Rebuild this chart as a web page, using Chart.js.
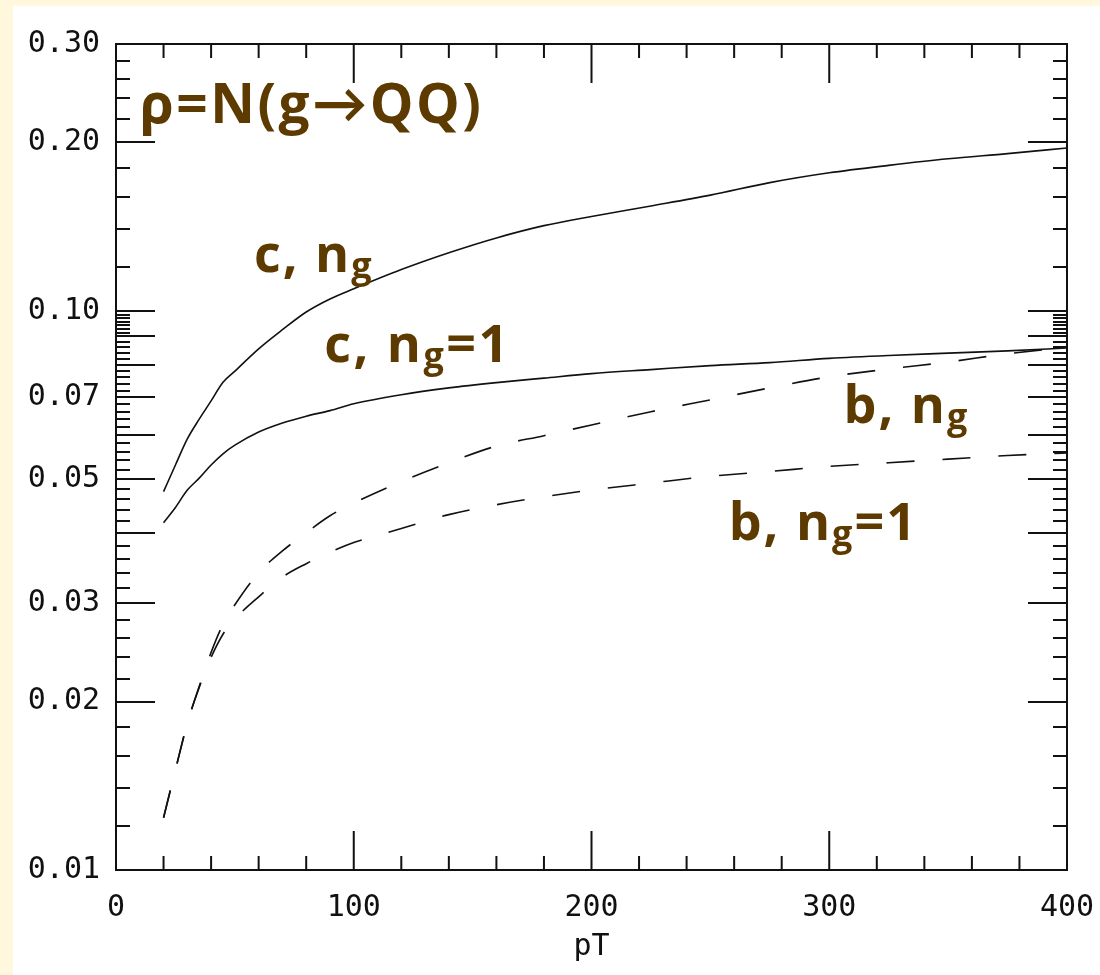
<!DOCTYPE html>
<html><head><meta charset="utf-8">
<script src="https://cdn.jsdelivr.net/npm/chart.js@4.4.1/dist/chart.umd.min.js"></script>
<style>
html,body{margin:0;padding:0;background:#fff8dc;width:1100px;height:975px;overflow:hidden}
#wrap{position:absolute;left:13px;top:6px;width:1087px;height:969px;background:#fff}
canvas{display:block}
</style></head><body>
<div id="wrap"><canvas id="c" width="1087" height="969"></canvas></div>
<script>
// ---- data ----
const pT   = [20,25,30,35,40,45,50,60,70,80,90,100,120,140,160,180,200,225,250,275,300,325,350,375,400];
const cNg  = [0.0475,0.053,0.059,0.064,0.069,0.0745,0.078,0.0855,0.0925,0.0995,0.105,0.1095,0.1185,0.127,0.135,0.142,0.1475,0.154,0.161,0.1695,0.1765,0.182,0.187,0.191,0.1955];
const cNg1 = [0.0418,0.0445,0.0478,0.0502,0.053,0.0555,0.0575,0.0607,0.063,0.0648,0.0663,0.0682,0.0708,0.0728,0.0744,0.0758,0.0772,0.0785,0.0798,0.0808,0.0822,0.0832,0.084,0.0848,0.0858];
const bNg  = [0.0124,0.0151,0.0183,0.0213,0.0245,0.0275,0.0298,0.034,0.0372,0.0401,0.043,0.0453,0.0495,0.0535,0.0573,0.0598,0.0625,0.066,0.0693,0.0728,0.0762,0.0787,0.081,0.0838,0.0861];
const bNg1 = [0.0124,0.0151,0.0183,0.0212,0.024,0.0264,0.0281,0.0308,0.0334,0.0353,0.037,0.0385,0.0408,0.0432,0.045,0.0465,0.0478,0.0492,0.0506,0.0516,0.0527,0.0535,0.0543,0.0551,0.0557];

const xTickLabels = [0,100,200,300,400];
const yTickLabels = [0.01,0.02,0.03,0.05,0.07,0.10,0.20,0.30];
const xLongTicks  = [100,200,300];
const xShortTicks = [20,40,60,80,120,140,160,180,220,240,260,280,320,340,360,380];
const yLongTicks  = [0.02,0.03,0.04,0.05,0.06,0.07,0.08,0.09,0.10,0.20];
const yShortTicks = [0.012,0.014,0.016,0.018,0.022,0.024,0.026,0.028,
  0.032,0.034,0.036,0.038,0.042,0.044,0.046,0.048,0.052,0.054,0.056,0.058,
  0.062,0.064,0.066,0.068,0.072,0.074,0.076,0.078,0.082,0.084,0.086,0.088,
  0.0914,0.0928,0.0942,0.0956,0.097,0.0984,
  0.12,0.14,0.16,0.18,0.22,0.24,0.26,0.28];

// annotations anchored in data coordinates (pT, rho)
const annotations = [
  {main:'\u03C1=N(g\u2192QQ)', sub:'', tail:'', x:10, y:0.217, size:55, spacing:2.5},
  {main:'c, n', sub:'g', tail:'',   x:58,    y:0.1174, size:52, spacing:2},
  {main:'c, n', sub:'g', tail:'=1', x:87.6,  y:0.0811, size:52, spacing:2.5},
  {main:'b, n', sub:'g', tail:'',   x:306,   y:0.0630, size:52, spacing:2},
  {main:'b, n', sub:'g', tail:'=1', x:257.7, y:0.0389, size:52, spacing:2}
];

const mk = (arr) => pT.map((x,i)=>({x:x, y:arr[i]}));
const axisFont = {family:'"DejaVu Sans Mono", monospace', size:30};
const brown = '#5c3a00';
const annFont = (sz) => 'bold ' + sz + 'px "Open Sans", Lato, sans-serif';

const framePlugin = {
  id:'frame',
  afterDatasetsDraw(chart){
    const {ctx, chartArea:a, scales:{x, y}} = chart;
    ctx.save();
    ctx.strokeStyle = '#111';
    ctx.lineWidth = 2;
    ctx.lineCap = 'butt';
    ctx.strokeRect(a.left, a.top, a.right-a.left, a.bottom-a.top);
    ctx.beginPath();
    const hy = (v, len) => { const p = Math.round(y.getPixelForValue(v));
      ctx.moveTo(a.left, p); ctx.lineTo(a.left+len, p);
      ctx.moveTo(a.right, p); ctx.lineTo(a.right-len, p); };
    const vx = (v, len) => { const p = x.getPixelForValue(v);
      ctx.moveTo(p, a.bottom); ctx.lineTo(p, a.bottom-len);
      ctx.moveTo(p, a.top); ctx.lineTo(p, a.top+len); };
    yLongTicks.forEach(v=>hy(v,39));
    yShortTicks.forEach(v=>hy(v,14));
    xLongTicks.forEach(v=>vx(v,39));
    xShortTicks.forEach(v=>vx(v,14));
    ctx.stroke();

    // annotations
    ctx.fillStyle = brown;
    ctx.textBaseline = 'alphabetic';
    annotations.forEach(an=>{
      let px = x.getPixelForValue(an.x);
      const py = y.getPixelForValue(an.y);
      ctx.letterSpacing = an.spacing + 'px';
      ctx.font = annFont(an.size);
      ctx.fillText(an.main, px, py);
      px += ctx.measureText(an.main).width;
      if (an.sub){
        ctx.font = annFont(Math.round(an.size*0.7));
        ctx.fillText(an.sub, px, py+6);
        px += ctx.measureText(an.sub).width;
      }
      if (an.tail){
        ctx.font = annFont(an.size);
        ctx.fillText(an.tail, px, py);
      }
    });
    ctx.letterSpacing = '0px';
    ctx.restore();
  }
};

const lineBase = {borderColor:'#111', borderWidth:1.6, pointRadius:0, fill:false, cubicInterpolationMode:'monotone'};

new Chart(document.getElementById('c'), {
  type:'line',
  data:{
    datasets:[
      Object.assign({label:'c, ng',   data:mk(cNg)}, lineBase),
      Object.assign({label:'c, ng=1', data:mk(cNg1)}, lineBase),
      Object.assign({label:'b, ng',   data:mk(bNg), borderDash:[28,28]}, lineBase),
      Object.assign({label:'b, ng=1', data:mk(bNg1), borderDash:[28,28]}, lineBase)
    ]
  },
  options:{
    responsive:false,
    devicePixelRatio:1,
    animation:false,
    layout:{padding:{top:38, right:33, left:0, bottom:0}},
    plugins:{legend:{display:false}, tooltip:{enabled:false}},
    scales:{
      x:{
        type:'linear', min:0, max:400,
        afterFit(s){ s.height = 105; s.paddingLeft = 0; s.paddingRight = 0; },
        afterBuildTicks(s){ s.ticks = xTickLabels.map(v=>({value:v})); },
        grid:{display:false, drawTicks:false},
        border:{display:false},
        ticks:{font:axisFont, color:'#111', padding:20, maxRotation:0, autoSkip:false},
        title:{display:true, text:'pT', font:axisFont, color:'#111', padding:{top:0,bottom:10}}
      },
      y:{
        type:'logarithmic', min:0.01, max:0.30,
        afterFit(s){ s.width = 103; },
        afterBuildTicks(s){ s.ticks = yTickLabels.map(v=>({value:v})); },
        grid:{display:false, drawTicks:false},
        border:{display:false},
        ticks:{font:axisFont, color:'#111', padding:16, autoSkip:false,
          callback:(v)=>Number(v).toFixed(2)}
      }
    }
  },
  plugins:[framePlugin]
});
</script>
</body></html>
